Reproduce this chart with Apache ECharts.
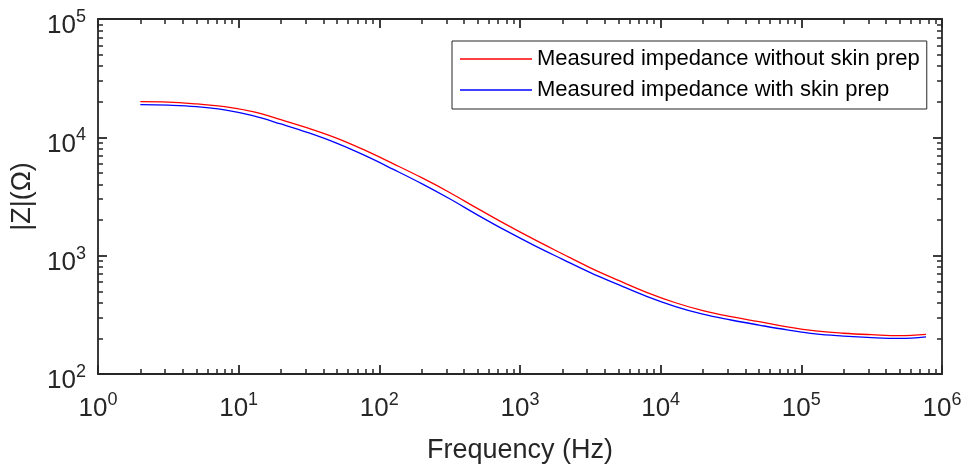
<!DOCTYPE html>
<html>
<head>
<meta charset="utf-8">
<script src="https://cdn.jsdelivr.net/npm/echarts@6/dist/echarts.min.js"></script>
<style>html,body{margin:0;padding:0;background:#fff;}#c{width:966px;height:471px;}</style>
</head>
<body>
<div id="c"></div>
<script>
const freq = [2, 3.16, 5.01, 7.94, 12.6, 19.95, 31.6, 50.1, 79.4, 126, 200, 316, 501, 794, 1259, 1995, 3162, 5012, 7943, 12589, 19953, 31623, 50119, 79433, 125893, 199526, 316228, 501187, 770000];
const zWithoutPrep = [20045, 19860, 19140, 18200, 16480, 14090, 11885, 9795, 7745, 5970, 4560, 3420, 2495, 1837, 1371, 1038, 789, 618, 490, 402, 343, 305, 277, 250, 231, 221, 215, 211, 216];
const zWithPrep = [18880, 18710, 18200, 17060, 15240, 12970, 10890, 8890, 7000, 5360, 4064, 3027, 2203, 1626, 1222, 935, 719, 569, 453, 373, 320, 286, 259, 236, 218, 209, 203, 200, 206];
const seriesNames = ['Measured impedance without skin prep', 'Measured impedance with skin prep'];
const xDecades = [0, 6];
const yDecades = [2, 5];

const FONT = "'Liberation Sans', Arial, Helvetica, sans-serif";
const AX = '#262626';

function minorPositions(a, b) {
  const out = [];
  for (let n = a; n < b; n++) for (let k = 2; k <= 9; k++) out.push(n + Math.log10(k));
  return out;
}
const rich = {
  b: { fontSize: 26, fontFamily: FONT, color: AX },
  s: { fontSize: 18, fontFamily: FONT, color: AX, padding: [0, 0, 18, 0] }
};
function fmt(v) {
  const e = Math.round(Math.log10(v));
  return '{b|10}{s|' + e + '}';
}
const lineSt = { show: true, lineStyle: { color: AX, width: 1.8 } };
function majorAxis(pos, min, max, label, extra) {
  return Object.assign({
    type: 'log', logBase: 10, min: min, max: max, position: pos,
    axisLine: lineSt,
    axisTick: { show: true, inside: true, length: 9, lineStyle: { color: AX, width: 1.8 } },
    minorTick: { show: false },
    axisLabel: label ? Object.assign({ show: true, formatter: fmt, rich: rich }, label) : { show: false },
    splitLine: { show: false }
  }, extra || {});
}
function minorAxis(pos, dec) {
  return {
    type: 'value', min: dec[0], max: dec[1], position: pos,
    axisLine: { show: false },
    axisTick: { show: true, inside: true, length: 5, customValues: minorPositions(dec[0], dec[1]), lineStyle: { color: AX, width: 1.5 } },
    axisLabel: { show: false },
    splitLine: { show: false }
  };
}

const chart = echarts.init(document.getElementById('c'), null, { renderer: 'canvas' });
chart.setOption({
  animation: false,
  backgroundColor: '#fff',
  grid: { left: 98, right: 24, top: 19, bottom: 97, containLabel: false },
  legend: {
    orient: 'vertical', left: 452, top: 41,
    icon: 'rect',
    itemWidth: 72, itemHeight: 1.4, itemGap: 7,
    padding: [6, 7, 7, 8],
    borderColor: AX, borderWidth: 1, backgroundColor: '#fff',
    textStyle: { fontSize: 22, fontFamily: FONT, color: '#000', lineHeight: 24 },
    data: seriesNames
  },
  xAxis: [
    majorAxis('bottom', Math.pow(10, xDecades[0]), Math.pow(10, xDecades[1]), { margin: 17 }, {
      name: 'Frequency (Hz)', nameLocation: 'middle', nameGap: 63,
      nameTextStyle: { fontSize: 27, fontFamily: FONT, color: AX }
    }),
    minorAxis('bottom', xDecades),
    majorAxis('top', Math.pow(10, xDecades[0]), Math.pow(10, xDecades[1]), null),
    minorAxis('top', xDecades)
  ],
  yAxis: [
    majorAxis('left', Math.pow(10, yDecades[0]), Math.pow(10, yDecades[1]), { margin: 12, padding: [14, 0, 0, 0] }, {
      name: '|Z|(\u03A9)', nameLocation: 'middle', nameGap: 55, nameRotate: 90,
      nameTextStyle: { fontSize: 27, fontFamily: FONT, color: AX }
    }),
    minorAxis('left', yDecades),
    majorAxis('right', Math.pow(10, yDecades[0]), Math.pow(10, yDecades[1]), null),
    minorAxis('right', yDecades)
  ],
  series: [
    {
      name: seriesNames[0], type: 'line', xAxisIndex: 0, yAxisIndex: 0,
      data: freq.map((f, i) => [f, zWithoutPrep[i]]),
      smooth: 0.4, symbol: 'none', lineStyle: { color: '#ff0000', width: 1.3 }, itemStyle: { color: '#ff0000' }
    },
    {
      name: seriesNames[1], type: 'line', xAxisIndex: 0, yAxisIndex: 0,
      data: freq.map((f, i) => [f, zWithPrep[i]]),
      smooth: 0.4, symbol: 'none', lineStyle: { color: '#0000ff', width: 1.3 }, itemStyle: { color: '#0000ff' }
    }
  ]
});
</script>
</body>
</html>
